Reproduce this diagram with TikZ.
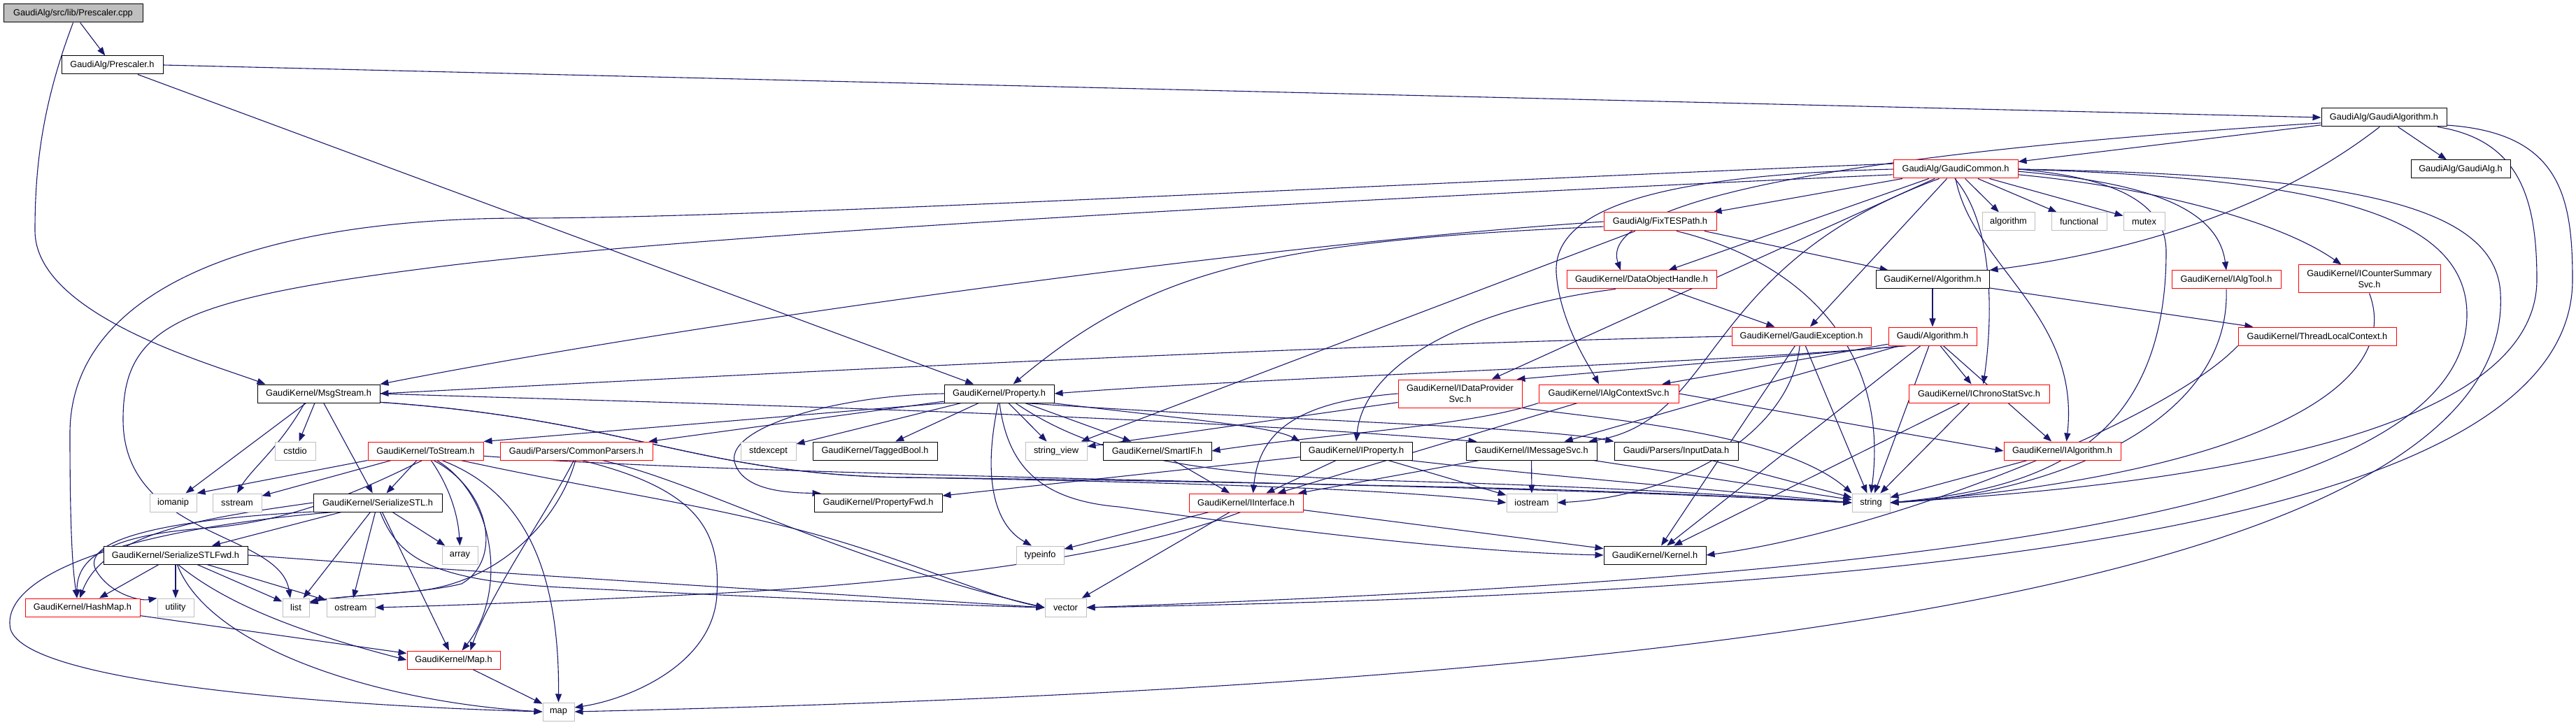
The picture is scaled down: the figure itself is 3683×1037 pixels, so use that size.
\documentclass[tikz,border=0pt]{standalone}
\usepackage{fontspec}
\setmainfont{Liberation Sans}
\usetikzlibrary{arrows.meta}
\definecolor{link}{HTML}{191970}
\definecolor{rootfill}{HTML}{BFBFBF}
\definecolor{sysline}{HTML}{BFBFBF}
\definecolor{truncline}{HTML}{FF0000}
\newcommand{\graphfont}{\fontsize{6.4}{7.6}\selectfont}
\pgfdeclarelayer{edges}
\pgfsetlayers{edges,main}

\begin{document}
\begin{tikzpicture}[
  x=0.5pt, y=-0.5pt,
  font=\graphfont,
  docfile/.style={draw=black, fill=white, line width=0.5pt, inner sep=0pt,
    minimum height=13pt},
  rootfile/.style={docfile, fill=rootfill},
  truncfile/.style={docfile, draw=truncline},
  sysfile/.style={docfile, draw=sysline},
  boxw/.style={minimum width=#1*0.5pt},
  twoline/.style={align=center, minimum height=20pt},
  incl/.style={draw=link, line width=0.55pt, -{Triangle[length=6pt,width=4.5pt]}}
]
\useasboundingbox (0,0) rectangle (3683,1037);

% Top rows
\node[rootfile, boxw=199] (cpp) at (104.5,19) {GaudiAlg/src/lib/Prescaler.cpp};
\node[docfile, boxw=145] (pres) at (160.5,93) {GaudiAlg/Prescaler.h};
\node[docfile, boxw=179] (galgo) at (3408.5,168) {GaudiAlg/GaudiAlgorithm.h};
\node[docfile, boxw=142] (galg) at (3518,242) {GaudiAlg/GaudiAlg.h};
\node[truncfile, boxw=178] (gcom) at (2796,242) {GaudiAlg/GaudiCommon.h};
\node[sysfile, boxw=75] (algo) at (2871.5,317) {algorithm};
\node[sysfile, boxw=79] (func) at (2972.5,317) {functional};
\node[sysfile, boxw=59] (mutex) at (3065.5,317) {mutex};
\node[truncfile, boxw=161] (fixtes) at (2373.5,317) {GaudiAlg/FixTESPath.h};
\node[truncfile, boxw=214] (doh) at (2347,400) {GaudiKernel/DataObjectHandle.h};
\node[docfile, boxw=162] (gkalg) at (2763,400) {GaudiKernel/Algorithm.h};
\node[truncfile, boxw=156] (ialgtool) at (3183,400) {GaudiKernel/IAlgTool.h};
\node[truncfile, boxw=203, twoline] (icounter) at (3387.5,399) {GaudiKernel/ICounterSummary\\Svc.h};
\node[truncfile, boxw=199] (gexc) at (2575.5,481) {GaudiKernel/GaudiException.h};
\node[truncfile, boxw=126] (galgo2) at (2763,481) {Gaudi/Algorithm.h};
\node[truncfile, boxw=226] (tlc) at (3313,481) {GaudiKernel/ThreadLocalContext.h};

% Middle rows
\node[docfile, boxw=175] (msg) at (455.5,563) {GaudiKernel/MsgStream.h};
\node[docfile, boxw=157] (prop) at (1428.5,563) {GaudiKernel/Property.h};
\node[truncfile, boxw=177, twoline] (idp) at (2087.5,563) {GaudiKernel/IDataProvider\\Svc.h};
\node[truncfile, boxw=200] (iacs) at (2300,563) {GaudiKernel/IAlgContextSvc.h};
\node[truncfile, boxw=201] (ichrono) at (2829.5,563) {GaudiKernel/IChronoStatSvc.h};
\node[sysfile, boxw=58] (cstdio) at (422,645) {cstdio};
\node[truncfile, boxw=165] (tostream) at (608.5,645) {GaudiKernel/ToStream.h};
\node[truncfile, boxw=218] (cparsers) at (824,645) {Gaudi/Parsers/CommonParsers.h};
\node[sysfile, boxw=79] (stdexcept) at (1098.5,645) {stdexcept};
\node[docfile, boxw=178] (tagged) at (1251,645) {GaudiKernel/TaggedBool.h};
\node[sysfile, boxw=88] (strview) at (1510,645) {string\_view};
\node[docfile, boxw=155] (smartif) at (1654.5,645) {GaudiKernel/SmartIF.h};
\node[docfile, boxw=160] (iprop) at (1939,645) {GaudiKernel/IProperty.h};
\node[docfile, boxw=187] (imsg) at (2189.5,645) {GaudiKernel/IMessageSvc.h};
\node[docfile, boxw=177] (inputdata) at (2396.5,645) {Gaudi/Parsers/InputData.h};
\node[truncfile, boxw=167] (ialg) at (2948.5,645) {GaudiKernel/IAlgorithm.h};

% Bottom rows
\node[sysfile, boxw=67] (iomanip) at (247.5,719) {iomanip};
\node[sysfile, boxw=70] (sstream) at (339,719) {sstream};
\node[docfile, boxw=184] (sstl) at (540,719) {GaudiKernel/SerializeSTL.h};
\node[docfile, boxw=183] (pfwd) at (1255.5,719) {GaudiKernel/PropertyFwd.h};
\node[truncfile, boxw=163] (iint) at (1781.5,719) {GaudiKernel/IInterface.h};
\node[sysfile, boxw=72] (iostream) at (2190,719) {iostream};
\node[sysfile, boxw=54] (string) at (2675,719) {string};
\node[docfile, boxw=206] (sstlfwd) at (251,794) {GaudiKernel/SerializeSTLFwd.h};
\node[sysfile, boxw=51] (array) at (657.5,794) {array};
\node[sysfile, boxw=68] (typeinfo) at (1487,794) {typeinfo};
\node[docfile, boxw=146] (kernel) at (2366,794) {GaudiKernel/Kernel.h};
\node[truncfile, boxw=164] (hashmap) at (118,869) {GaudiKernel/HashMap.h};
\node[sysfile, boxw=52] (utility) at (251,869) {utility};
\node[sysfile, boxw=38] (list) at (423,869) {list};
\node[sysfile, boxw=69] (ostream) at (501.5,869) {ostream};
\node[sysfile, boxw=59] (vector) at (1523.5,869) {vector};
\node[truncfile, boxw=133] (mapH) at (648.5,944) {GaudiKernel/Map.h};
\node[sysfile, boxw=45] (map) at (798.5,1018) {map};

\begin{pgfonlayer}{edges}
\fill[white] (0,0) rectangle (3683,1037);

% Prescaler
\draw[incl] (cpp) -- (pres);
\draw[incl] (cpp.south) .. controls (60,150) and (50,240) .. (50,330) .. controls (50,450) and (300,520) .. ([xshift=6pt]msg.north west);
\draw[incl] (pres.east) -- (galgo.west);
\draw[incl] (pres) -- (prop);

% GaudiAlgorithm.h
\draw[incl] (galgo) -- (gcom);
\draw[incl] (galgo) -- (galg);
\draw[incl] (galgo.-115) .. controls (3250,300) and (3050,360) .. (gkalg.north east);
\draw[incl] (galgo.-175) .. controls (2700,215) and (2280,280) .. ([xshift=-15pt]doh.north);
\draw[incl] (galgo.-10) .. controls (3600,200) and (3627,280) .. (3627,400) .. controls (3627,650) and (3000,700) .. (string.east);
\draw[incl] (galgo.-7) .. controls (3660,190) and (3678,280) .. (3678,400) .. controls (3678,780) and (2600,850) .. (vector.east);

% GaudiCommon.h
\draw[incl] (gcom) -- (fixtes);
\draw[incl] (gcom) -- (doh);
\draw[incl] (gcom) -- (gexc);
\draw[incl] (gcom.-95) .. controls (2850,320) and (2850,450) .. ([xshift=3pt]ichrono.north);
\draw[incl] (gcom.-2) .. controls (3050,260) and (3170,290) .. (ialgtool.north);
\draw[incl] (gcom.-5) .. controls (3050,265) and (3250,310) .. ([xshift=-20pt]icounter.north);
\draw[incl] (gcom) -- (algo);
\draw[incl] (gcom) -- (func);
\draw[incl] (gcom) -- (mutex);
\draw[incl] (gcom) -- (idp);
\draw[incl] (gcom.west) .. controls (2400,250) and (2220,290) .. (2225,390) .. controls (2230,460) and (2270,520) .. ([xshift=-7pt]iacs.north);
\draw[incl] (gcom.-150) .. controls (2430,380) and (2460,600) .. ([xshift=-6pt]imsg.north east);
\draw[incl] (gcom.south) .. controls (2820,380) and (2975,450) .. ([xshift=3pt]ialg.north);
\draw[incl] (gcom.175) .. controls (2000,262) and (1100,312) .. (750,312) .. controls (350,312) and (100,420) .. (100,620) .. controls (100,780) and (105,820) .. ([xshift=-4pt]hashmap.north);
\draw[incl] (gcom.185) .. controls (1600,300) and (900,345) .. (600,385) .. controls (250,430) and (176,470) .. (176,600) .. controls (176,770) and (400,760) .. ([xshift=-4pt]list.north);
\draw[incl] (gcom.east) .. controls (3000,252) and (3097,280) .. (3097,360) .. controls (3097,650) and (2900,700) .. (string.east);
\draw[incl] (gcom.east) .. controls (3300,255) and (3527,300) .. (3527,450) .. controls (3527,760) and (2600,830) .. (vector.east);
\draw[incl] (gcom.east) .. controls (3350,250) and (3569,290) .. (3575,420) .. controls (3600,900) and (2000,990) .. (map.east);

% FixTESPath.h
\draw[incl] (fixtes.west) .. controls (1800,350) and (1000,460) .. (msg.north east);
\draw[incl] (fixtes.-175) .. controls (1800,345) and (1640,390) .. ([xshift=10pt]prop.north);
\draw[incl] (fixtes) -- (strview);
\draw[incl] (fixtes) -- (gkalg);
\draw[incl] (fixtes.-30) .. controls (2600,380) and (2700,520) .. (string.north);

% Algorithm, DataObjectHandle, GaudiException
\draw[incl] (gkalg) -- (galgo2);
\draw[incl] (gkalg) -- (tlc);
\draw[incl] (doh) -- (gexc);
\draw[incl] (doh.-160) .. controls (2100,440) and (1950,520) .. (iprop.north);
\draw[incl] (gexc.west) .. controls (1800,495) and (900,545) .. (msg.east);
\draw[incl] (gexc) -- (string);
\draw[incl] (gexc.-100) .. controls (2560,620) and (2400,710) .. (iostream.east);
\draw[incl] (gexc) -- (kernel);

% Gaudi/Algorithm.h
\draw[incl] (galgo2.-160) .. controls (2450,520) and (1800,540) .. (prop.east);
\draw[incl] (galgo2.-160) -- ([xshift=-4pt]idp.north east);
\draw[incl] (galgo2) -- (iacs);
\draw[incl] (galgo2) -- (ichrono);
\draw[incl] (galgo2) -- (ialg);
\draw[incl] (galgo2) -- (imsg);
\draw[incl] (galgo2) -- (string);
\draw[incl] (galgo2) -- (kernel);

% interfaces
\draw[incl] (idp) -- (strview);
\draw[incl] (idp.west) .. controls (1850,575) and (1800,620) .. ([xshift=5pt]iint.north);
\draw[incl] (idp.south east) .. controls (2300,600) and (2550,620) .. (string.north west);
\draw[incl] (iacs) -- (iint);
\draw[incl] (iacs.east) -- (ialg.west);
\draw[incl] (iacs.south west) .. controls (2100,610) and (1900,620) .. (smartif.east);
\draw[incl] (ichrono) -- (string);
\draw[incl] (ichrono) -- (kernel);
\draw[incl] (ialgtool.south) .. controls (3190,620) and (2900,710) .. (string.east);
\draw[incl] (icounter.south) .. controls (3440,560) and (3200,680) .. (string.east);
\draw[incl] (tlc.south west) .. controls (3100,600) and (2700,760) .. (kernel.east);
\draw[incl] (ialg) -- (string);

% MsgStream.h
\draw[incl] (msg) -- (cstdio);
\draw[incl] (msg) -- (iomanip);
\draw[incl] ([xshift=-10pt]msg.south) .. controls (400,640) and (360,670) .. (sstream.north);
\draw[incl] (msg) -- (sstl);
\draw[incl] (msg.east) .. controls (900,575) and (1600,590) .. ([xshift=8pt]imsg.north west);
\draw[incl] (msg.-8) .. controls (900,600) and (1000,680) .. (1300,683) .. controls (1700,690) and (2000,700) .. (iostream.west);
\draw[incl] (msg.-8) .. controls (900,600) and (1000,680) .. (1300,683) .. controls (1900,690) and (2400,705) .. (string.west);

% Property.h
\draw[incl] (prop.-170) -- (tostream.north east);
\draw[incl] (prop.-172) -- ([xshift=-3pt]cparsers.north east);
\draw[incl] (prop) -- (stdexcept);
\draw[incl] (prop) -- (tagged);
\draw[incl] (prop) -- (strview);
\draw[incl] (prop) -- (smartif);
\draw[incl] (prop.-10) .. controls (1700,600) and (1820,610) .. (iprop.north west);
\draw[incl] (prop.west) .. controls (1200,565) and (1040,610) .. (1050,660) .. controls (1060,700) and (1120,705) .. ([xshift=5pt]pfwd.north west);
\draw[incl] (prop.-95) .. controls (1405,680) and (1420,750) .. ([xshift=-6pt]typeinfo.north);
\draw[incl] (prop.-88) .. controls (1440,660) and (1480,715) .. (1600,725) .. controls (1850,760) and (2100,790) .. (kernel.west);
\draw[incl] (prop.-20) .. controls (1800,600) and (2200,610) .. (inputdata.north west);
\draw[incl] (prop.-30) .. controls (1560,650) and (1700,680) .. (2000,688) .. controls (2300,696) and (2500,710) .. (string.west);

% ToStream.h, CommonParsers.h
\draw[incl] (tostream.south west) -- (iomanip.north east);
\draw[incl] (tostream) -- (sstream);
\draw[incl] (tostream) -- (sstl);
\draw[incl] (tostream.-110) .. controls (520,700) and (420,745) .. (300,755) .. controls (150,765) and (110,800) .. ([xshift=-4pt]hashmap.north);
\draw[incl] (tostream.-60) .. controls (645,700) and (655,740) .. (array.north);
\draw[incl] (tostream.-50) .. controls (700,700) and (720,800) .. (660,835) .. controls (600,850) and (500,850) .. ([yshift=4pt]list.east);
\draw[incl] (tostream.-40) .. controls (710,710) and (725,850) .. ([xshift=6pt]mapH.north);
\draw[incl] (tostream.-30) .. controls (740,700) and (800,800) .. (map.north);
\draw[incl] (tostream.-15) .. controls (850,700) and (1000,720) .. (1150,760) .. controls (1300,800) and (1400,850) .. (vector.west);
\draw[incl] (tostream.-5) .. controls (900,668) and (1300,680) .. (2000,695) .. controls (2400,703) and (2550,715) .. (string.west);
\draw[incl] (cparsers.-95) .. controls (800,740) and (720,830) .. (600,845) .. controls (520,852) and (470,855) .. ([yshift=3pt]list.east);
\draw[incl] (cparsers.-105) .. controls (790,720) and (700,850) .. ([xshift=12pt]mapH.north);
\draw[incl] (cparsers.-60) .. controls (1000,700) and (1030,760) .. (1025,850) .. controls (1020,950) and (900,1000) .. ([yshift=3pt]map.east);
\draw[incl] (cparsers.-20) .. controls (1000,690) and (1200,800) .. (vector.west);

% IProperty.h, IMessageSvc.h, SmartIF.h, IInterface.h
\draw[incl] (iprop) -- (iint);
\draw[incl] (iprop) -- (pfwd);
\draw[incl] (iprop) -- (iostream);
\draw[incl] (iprop.-10) .. controls (2200,680) and (2500,705) .. (string.west);
\draw[incl] (imsg) -- (iostream);
\draw[incl] (imsg) -- (iint);
\draw[incl] (imsg) -- (string);
\draw[incl] (inputdata) -- (string);
\draw[incl] (smartif) -- (iint);
\draw[incl] (iint) -- (typeinfo);
\draw[incl] (iint.-120) .. controls (1650,780) and (1400,830) .. (1000,850) .. controls (800,860) and (650,866) .. (ostream.east);
\draw[incl] (iint) -- (vector);
\draw[incl] (iint) -- (kernel);

% SerializeSTL.h, SerializeSTLFwd.h, maps
\draw[incl] (sstl) -- (sstlfwd);
\draw[incl] (sstl.west) .. controls (300,740) and (150,760) .. ([xshift=-2pt]hashmap.north);
\draw[incl] (sstl.-172) .. controls (200,745) and (110,780) .. (140,820) .. controls (160,850) and (200,860) .. (utility.north west);
\draw[incl] (sstl.-168) .. controls (150,760) and (0,830) .. (15,900) .. controls (40,980) and (500,1010) .. (map.west);
\draw[incl] (sstl) -- (list);
\draw[incl] (sstl) -- (ostream);
\draw[incl] (sstl) -- (mapH);
\draw[incl] (sstl) -- (array);
\draw[incl] (sstl.-75) .. controls (570,800) and (620,830) .. (800,840) .. controls (1100,855) and (1350,865) .. (vector.west);
\draw[incl] (sstlfwd) -- (hashmap);
\draw[incl] (sstlfwd) -- (utility);
\draw[incl] (sstlfwd) -- (list);
\draw[incl] (sstlfwd) -- (ostream);
\draw[incl] (sstlfwd.-80) .. controls (300,930) and (550,1005) .. (map.west);
\draw[incl] (sstlfwd.-75) .. controls (330,870) and (450,910) .. (mapH.west);
\draw[incl] (sstlfwd.east) .. controls (700,820) and (1200,850) .. (vector.west);
\draw[incl] (hashmap) -- (mapH);
\draw[incl] (mapH) -- (map);
\end{pgfonlayer}

\end{tikzpicture}
\end{document}
